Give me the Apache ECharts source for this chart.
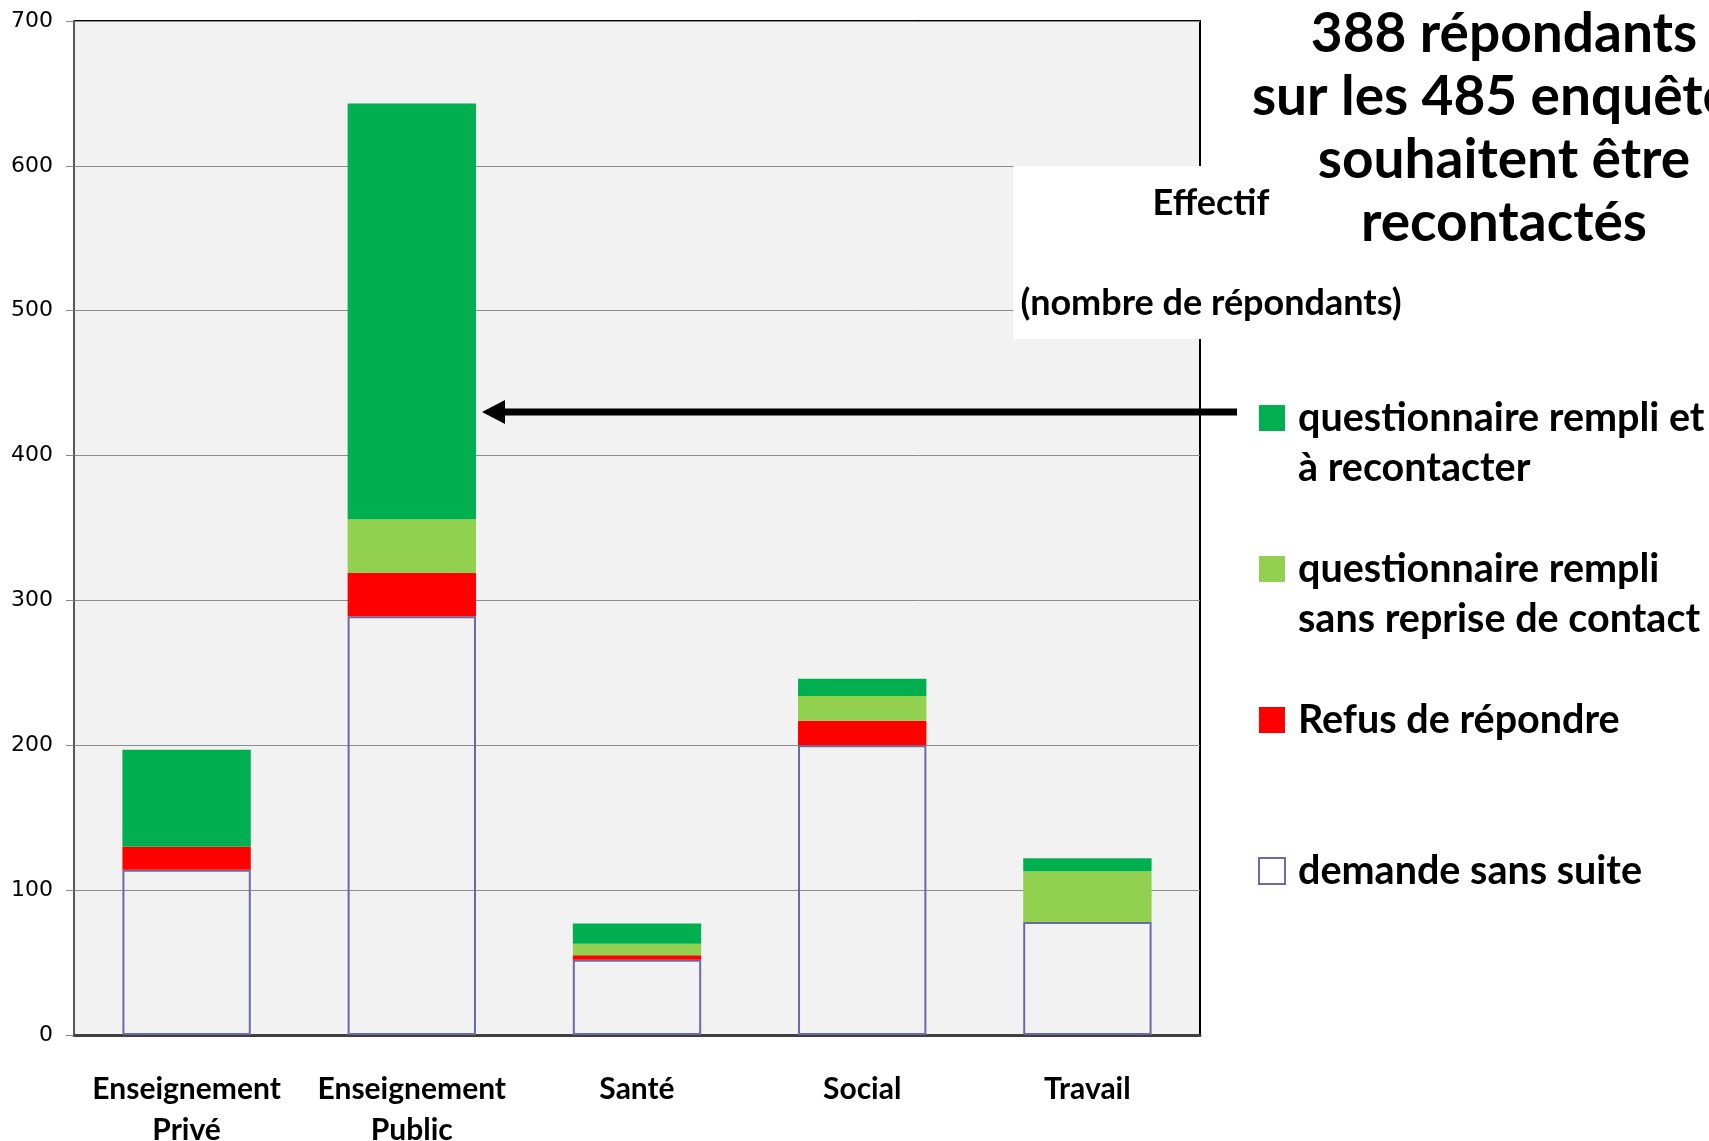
<!DOCTYPE html>
<html>
<head>
<meta charset="utf-8">
<script src="https://cdn.jsdelivr.net/npm/echarts@6/dist/echarts.min.js"></script>
<style>
    html, body { margin: 0; padding: 0; background: #fff; }
    #chart { width: 1709px; height: 1141px; }
</style>
</head>
<body>
<div id="chart"></div>
<script>
// data
const categories = ["Enseignement\nPrivé", "Enseignement\nPublic", "Santé", "Social", "Travail"]
const demandeSansSuite = [114, 289, 52, 200, 78]
const refusRepondre = [16, 30, 3, 17, 0]
const rempliSansReprise = [0, 37, 8, 17, 35]
const rempliRecontacter = [67, 287, 14, 12, 9]

const yMin = 0
const yMax = 700
const yStep = 100

const seriesNames = ["demande sans suite", "Refus de répondre", "questionnaire rempli sans reprise de contact", "questionnaire rempli et à recontacter"]
const legendLabels = ["questionnaire rempli et\nà recontacter", "questionnaire rempli\nsans reprise de contact", "Refus de répondre", "demande sans suite"]
const titleLines = ["388 répondants", "sur les 485 enquêtés", "souhaitent être", "recontactés"]
const axisTitleLines = ["Effectif", "", "(nombre de répondants)"]

const font = "Lato"
const lh = 50

let myChart = echarts.init(document.getElementById("chart"))

// legend order is top series first
let legendOrder = [3, 2, 1, 0]
let legendData = legendOrder.map(s => {
    let item = { name: seriesNames[s] }
    if (s === 0) item.itemStyle = { color: "#fff", borderColor: "#6b6ba3", borderWidth: 2 }
    return item
})

// every legend text is 3 lines high so that the first real line sits on the square
function legendText(name){
    let label = legendLabels[legendOrder.indexOf(seriesNames.indexOf(name))]
    return label.indexOf("\n") >= 0 ? "\n" + label : "\n" + label + "\n"
}

function barSeries(idx, values, style){
    return {
        name: seriesNames[idx],
        type: "bar",
        stack: "total",
        barWidth: "57%",
        data: values,
        itemStyle: style,
        emphasis: { disabled: true }
    }
}

let option = {
    animation: false,
    title: [{
        text: titleLines.join("\n"),
        left: 1504,
        top: 3,
        padding: 0,
        textAlign: "center",
        z: 25,
        textStyle: { fontFamily: font, fontWeight: "bold", fontSize: 55, lineHeight: 63, color: "#000" }
    }, {
        text: axisTitleLines.join("\n"),
        left: 1204,
        top: 166,
        padding: [12, 7, 11, 7],
        textAlign: "center",
        backgroundColor: "#fff",
        z: 20,
        textStyle: { fontFamily: font, fontWeight: "bold", fontSize: 36, lineHeight: 50, color: "#000" }
    }],
    legend: {
        orient: "vertical",
        left: 1258,
        top: 343,
        padding: 0,
        itemGap: 1,
        itemWidth: 26,
        itemHeight: 26,
        icon: "rect",
        selectedMode: false,
        data: legendData,
        formatter: legendText,
        textStyle: { fontFamily: font, fontWeight: "bold", fontSize: 39.5, lineHeight: lh, color: "#000", padding: [0, 0, 0, 8] }
    },
    grid: {
        left: 74,
        right: 509,
        top: 21,
        bottom: 106,
        outerBoundsMode: "none",
        containLabel: false,
        show: true,
        backgroundColor: "#f2f2f2",
        borderColor: "#000",
        borderWidth: 2
    },
    xAxis: {
        type: "category",
        data: categories,
        axisLine: { lineStyle: { color: "#404040", width: 3 } },
        axisTick: { show: false },
        axisLabel: {
            interval: 0,
            margin: 34,
            fontFamily: font,
            fontWeight: "bold",
            fontSize: 30,
            lineHeight: 41,
            color: "#000"
        }
    },
    yAxis: {
        type: "value",
        min: yMin,
        max: yMax,
        interval: yStep,
        axisLine: { show: true, lineStyle: { color: "#595959", width: 2 } },
        axisTick: { show: true, length: 8, lineStyle: { color: "#888" } },
        axisLabel: { fontFamily: "DejaVu Sans", fontSize: 22, color: "#000", margin: 21 },
        splitLine: { lineStyle: { color: "#8c8c8c", width: 1 } }
    },
    series: [
        barSeries(0, demandeSansSuite, { color: "rgba(255,255,255,0)", borderColor: "#6b6ba3", borderWidth: 2 }),
        barSeries(1, refusRepondre, { color: "#ff0000" }),
        barSeries(2, rempliSansReprise, { color: "#92d050" }),
        barSeries(3, rempliRecontacter, { color: "#00b050" })
    ],
    // arrow pointing at the Enseignement Public bar
    graphic: [{
        type: "line",
        shape: { x1: 1237, y1: 412, x2: 500, y2: 412 },
        style: { stroke: "#000", lineWidth: 7 },
        z: 30
    }, {
        type: "polygon",
        shape: { points: [[482, 412], [505, 400], [505, 424]] },
        style: { fill: "#000" },
        z: 30
    }]
}

myChart.setOption(option)
</script>
</body>
</html>
